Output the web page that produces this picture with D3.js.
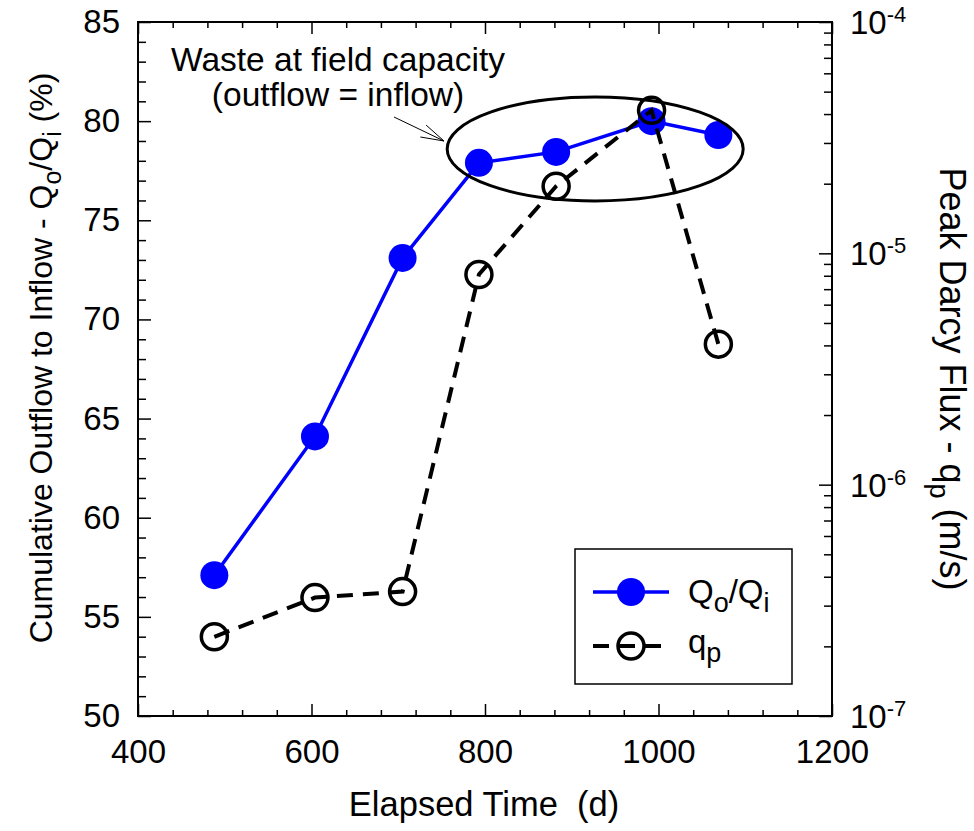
<!DOCTYPE html>
<html>
<head>
<meta charset="utf-8">
<script src="https://cdn.jsdelivr.net/npm/d3@7"></script>
<style>
  body { margin: 0; background: #fff; }
  svg text { font-family: "Liberation Sans", Arial, sans-serif; fill: #000; white-space: pre; }
</style>
</head>
<body>
<script>
// elapsed time of each test (d)
var days = [488, 604, 705, 793, 882, 992, 1069];
// cumulative outflow / inflow (%)
var ratio = [57.1, 64.1, 73.1, 77.9, 78.45, 80.0, 79.3];
// peak darcy flux (m/s)
var flux = [2.2e-7, 3.25e-7, 3.45e-7, 8.1e-6, 1.95e-5, 4.15e-5, 4.05e-6];

var xTicks = [400, 600, 800, 1000, 1200];
var yTicks = [50, 55, 60, 65, 70, 75, 80, 85];
var rTicks = [-7, -6, -5, -4];

var width = 974, height = 831;
var pLeft = 138, pRight = 832, pTop = 22, pBottom = 716;

var svg = d3.select("body").append("svg")
    .attr("width", width)
    .attr("height", height);

var x = d3.scaleLinear().domain([400, 1200]).range([pLeft, pRight]);
var yL = d3.scaleLinear().domain([50, 85]).range([pBottom, pTop]);
var yR = d3.scaleLog().domain([1e-7, 1e-4]).range([pBottom, pTop]);

// minor ticks
var xMinor = d3.range(400, 1201, 40).filter(function(d) { return d % 200 != 0; });
var yMinor = d3.range(50, 86, 1).filter(function(d) { return d % 5 != 0; });
var rMinor = [];
rTicks.slice(0, 3).forEach(function(e) {
    for (var k = 2; k < 10; k++) rMinor.push(k * Math.pow(10, e));
});

function noLabels(g) { g.selectAll("text").remove(); g.select(".domain").remove(); }

// bottom axis
svg.append("g").attr("transform", "translate(0," + pBottom + ")")
    .call(d3.axisBottom(x).tickValues(xMinor).tickSizeInner(-6).tickSizeOuter(0)).call(noLabels);
var xAxis = svg.append("g").attr("transform", "translate(0," + pBottom + ")")
    .call(d3.axisBottom(x).tickValues(xTicks).tickFormat(d3.format("d"))
        .tickSizeInner(-12).tickSizeOuter(0).tickPadding(24));
xAxis.select(".domain").remove();
xAxis.selectAll("text").attr("font-size", 33).attr("font-family", "Liberation Sans, Arial");

// top axis (ticks only)
svg.append("g").attr("transform", "translate(0," + pTop + ")")
    .call(d3.axisTop(x).tickValues(xMinor).tickSizeInner(-6).tickSizeOuter(0)).call(noLabels);
svg.append("g").attr("transform", "translate(0," + pTop + ")")
    .call(d3.axisTop(x).tickValues(xTicks).tickSizeInner(-12).tickSizeOuter(0)).call(noLabels);

// left axis
svg.append("g").attr("transform", "translate(" + pLeft + ",0)")
    .call(d3.axisLeft(yL).tickValues(yMinor).tickSizeInner(-8).tickSizeOuter(0)).call(noLabels);
var yAxis = svg.append("g").attr("transform", "translate(" + pLeft + ",0)")
    .call(d3.axisLeft(yL).tickValues(yTicks).tickSizeInner(-13).tickSizeOuter(0).tickPadding(18));
yAxis.select(".domain").remove();
yAxis.selectAll("text").attr("font-size", 33).attr("font-family", "Liberation Sans, Arial");

// right axis (log)
svg.append("g").attr("transform", "translate(" + pRight + ",0)")
    .call(d3.axisRight(yR).tickValues(rMinor).tickSizeInner(-8).tickSizeOuter(0)).call(noLabels);
svg.append("g").attr("transform", "translate(" + pRight + ",0)")
    .call(d3.axisRight(yR).tickValues(rTicks.map(function(e) { return Math.pow(10, e); }))
        .tickSizeInner(-13).tickSizeOuter(0)).call(noLabels);

svg.selectAll("g.tick line").attr("stroke", "#000").attr("stroke-width", 1.5);

var rLab = svg.selectAll("text.rlab").data(rTicks).enter().append("text")
    .attr("class", "rlab")
    .attr("x", 850)
    .attr("y", function(d) { return yR(Math.pow(10, d)) + 12; })
    .attr("font-size", 33);
rLab.append("tspan").text("10");
rLab.append("tspan").attr("font-size", 22).attr("dy", -12).text(function(d) { return d; });

// frame
svg.append("rect")
    .attr("x", pLeft).attr("y", pTop)
    .attr("width", pRight - pLeft).attr("height", pBottom - pTop)
    .attr("fill", "none").attr("stroke", "#000").attr("stroke-width", 2);

// axis titles
svg.append("text")
    .attr("transform", "translate(" + ((pLeft + pRight) / 2 - 1) + ",816)")
    .attr("text-anchor", "middle").attr("font-size", 34.5)
    .text("Elapsed Time  (d)");

var lt = svg.append("text")
    .attr("transform", "translate(52,358) rotate(-90)")
    .attr("text-anchor", "middle").attr("font-size", 32);
lt.append("tspan").text("Cumulative Outflow to Inflow - Q");
lt.append("tspan").attr("font-size", 25).attr("dy", 9).text("o");
lt.append("tspan").attr("dy", -9).text("/Q");
lt.append("tspan").attr("font-size", 25).attr("dy", 9).text("i");
lt.append("tspan").attr("dy", -9).text(" (%)");

var rt = svg.append("text")
    .attr("transform", "translate(940,379) rotate(90)")
    .attr("text-anchor", "middle").attr("font-size", 36);
rt.append("tspan").text("Peak Darcy Flux - q");
rt.append("tspan").attr("font-size", 27).attr("dy", 10).text("p");
rt.append("tspan").attr("dy", -10).text(" (m/s)");

// blue series
var lineL = d3.line()
    .x(function(d, i) { return x(days[i]); })
    .y(function(d) { return yL(d); });
svg.append("path").datum(ratio)
    .attr("d", lineL)
    .attr("fill", "none").attr("stroke", "#0000ff").attr("stroke-width", 3.5);
svg.selectAll("circle.qo").data(ratio).enter().append("circle")
    .attr("class", "qo")
    .attr("cx", function(d, i) { return x(days[i]); })
    .attr("cy", function(d) { return yL(d); })
    .attr("r", 14)
    .attr("fill", "#0000ff");

// black series
svg.selectAll("circle.qp").data(flux).enter().append("circle")
    .attr("class", "qp")
    .attr("cx", function(d, i) { return x(days[i]); })
    .attr("cy", function(d) { return yR(d); })
    .attr("r", 13)
    .attr("fill", "none").attr("stroke", "#000").attr("stroke-width", 3.5);
var lineR = d3.line()
    .x(function(d, i) { return x(days[i]); })
    .y(function(d) { return yR(d); });
svg.append("path").datum(flux)
    .attr("d", lineR)
    .attr("fill", "none").attr("stroke", "#000").attr("stroke-width", 4)
    .attr("stroke-dasharray", "16,10");

// annotation: ellipse round the plateau
svg.append("ellipse")
    .attr("cx", x(927)).attr("cy", yL(78.6))
    .attr("rx", 148).attr("ry", 52)
    .attr("fill", "none").attr("stroke", "#000").attr("stroke-width", 3);

svg.append("text").attr("x", 338).attr("y", 71)
    .attr("text-anchor", "middle").attr("font-size", 33.5)
    .text("Waste at field capacity");
svg.append("text").attr("x", 338).attr("y", 106)
    .attr("text-anchor", "middle").attr("font-size", 33.5)
    .text("(outflow = inflow)");

// arrow with open head
var ax0 = 394, ay0 = 117, ax1 = 444, ay1 = 141;
var ang = Math.atan2(ay1 - ay0, ax1 - ax0);
svg.append("line")
    .attr("x1", ax0).attr("y1", ay0).attr("x2", ax1).attr("y2", ay1)
    .attr("stroke", "#000").attr("stroke-width", 1);
[-0.28, 0.28].forEach(function(a) {
    svg.append("line")
        .attr("x1", ax1).attr("y1", ay1)
        .attr("x2", ax1 - 24 * Math.cos(ang + a)).attr("y2", ay1 - 24 * Math.sin(ang + a))
        .attr("stroke", "#000").attr("stroke-width", 1);
});

// legend
var lg = svg.append("g");
lg.append("rect")
    .attr("x", 575).attr("y", 549).attr("width", 217).attr("height", 135)
    .attr("fill", "#fff").attr("stroke", "#000").attr("stroke-width", 1.5);
lg.append("line").attr("x1", 593).attr("x2", 669).attr("y1", 592).attr("y2", 592)
    .attr("stroke", "#0000ff").attr("stroke-width", 3.5);
lg.append("circle").attr("cx", 631).attr("cy", 592).attr("r", 14).attr("fill", "#0000ff");
lg.append("circle").attr("cx", 631).attr("cy", 646).attr("r", 13)
    .attr("fill", "none").attr("stroke", "#000").attr("stroke-width", 3.5);
lg.append("line").attr("x1", 593).attr("x2", 669).attr("y1", 646).attr("y2", 646)
    .attr("stroke", "#000").attr("stroke-width", 4).attr("stroke-dasharray", "16,10");

var t1 = lg.append("text").attr("x", 688).attr("y", 603).attr("font-size", 33);
t1.append("tspan").text("Q");
t1.append("tspan").attr("font-size", 27).attr("dy", 9).text("o");
t1.append("tspan").attr("dy", -9).text("/Q");
t1.append("tspan").attr("font-size", 27).attr("dy", 9).text("i");
var t2 = lg.append("text").attr("x", 688).attr("y", 653).attr("font-size", 33);
t2.append("tspan").text("q");
t2.append("tspan").attr("font-size", 27).attr("dy", 9).text("p");
</script>
</body>
</html>
